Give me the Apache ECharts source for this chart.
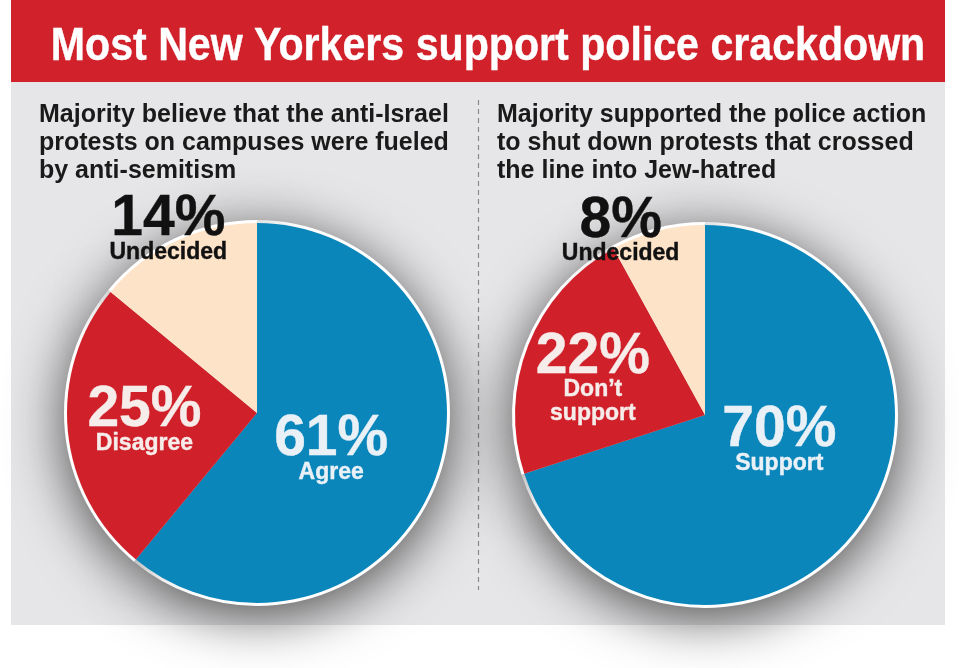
<!DOCTYPE html>
<html>
<head>
<meta charset="utf-8">
<script src="https://cdn.jsdelivr.net/npm/echarts@6/dist/echarts.min.js"></script>
<style>
html,body{margin:0;padding:0;background:#fff;}
#chart{width:959px;height:668px;}
</style>
</head>
<body>
<div id="chart"></div>
<script>
// ---- data ----
const TITLE = 'Most New Yorkers support police crackdown';
const LEFT_SUBTITLE = ['Majority believe that the anti-Israel', 'protests on campuses were fueled', 'by anti-semitism'];
const RIGHT_SUBTITLE = ['Majority supported the police action', 'to shut down protests that crossed', 'the line into Jew-hatred'];
const LEFT_CATS = ['Agree', 'Disagree', 'Undecided'];
const LEFT_VALUES = [61, 25, 14];
const RIGHT_CATS = ['Support', 'Don\u2019t support', 'Undecided'];
const RIGHT_VALUES = [70, 22, 8];

// ---- style / layout ----
const SLICE_COLORS = ['#0b86bb', '#d0212b', '#fde3c8'];
const LABEL_COLORS = ['#e9f1f7', '#f6ecea', '#111111'];
const FONT = '"Liberation Sans", Arial, sans-serif';
const R = 190;
const LEFT_CENTER = [257, 413];
const RIGHT_CENTER = [705, 415];
const LEFT_OFFSETS = [[-18, 5], [-15, 0], [-47, -93]];
const RIGHT_OFFSETS = [[-5, -30], [-21, 2], [-60, -87]];

function buildData(cats, vals) {
  return cats.map((c, i) => ({
    name: c,
    value: vals[i],
    itemStyle: { color: SLICE_COLORS[i] },
    label: { color: LABEL_COLORS[i], textBorderColor: LABEL_COLORS[i], textBorderWidth: 0.4 }
  }));
}

function labelFormatter(p) {
  const lines = p.name.split(' ').map(s => '{n|' + s + '}').join('\n');
  return '{p|' + p.value + '%}\n' + lines;
}

const rich = {
  p: { fontSize: 57, fontWeight: 'bold', fontFamily: FONT, lineHeight: 42 },
  n: { fontSize: 23, fontWeight: 'bold', fontFamily: FONT, lineHeight: 24 }
};

function shadowSeries(center, cats, vals) {
  return {
    type: 'pie',
    center: center,
    radius: R + 3,
    startAngle: 90,
    silent: true,
    z: 1,
    label: { show: false },
    labelLine: { show: false },
    itemStyle: {
      color: '#ffffff',
      shadowBlur: 55,
      shadowColor: 'rgba(0,0,0,0.68)',
      shadowOffsetY: 10
    },
    data: cats.map((c, i) => ({ name: c, value: vals[i] }))
  };
}

function mainSeries(center, cats, vals, offsets) {
  return {
    type: 'pie',
    center: center,
    radius: R,
    startAngle: 90,
    clockwise: true,
    silent: true,
    z: 3,
    label: {
      show: true,
      position: 'inside',
      formatter: labelFormatter,
      rich: rich,
      align: 'center'
    },
    labelLine: { show: false },
    labelLayout: function (p) {
      const o = offsets[p.dataIndex];
      return { dx: o[0], dy: o[1] };
    },
    data: buildData(cats, vals)
  };
}

const chart = echarts.init(document.getElementById('chart'), null, { renderer: 'canvas' });

const option = {
  backgroundColor: '#ffffff',
  animation: false,
  graphic: [
    { type: 'rect', z: -10, shape: { x: 11, y: 82, width: 934, height: 543 }, style: { fill: '#e6e6e8' } },
    { type: 'rect', z: -10, shape: { x: 11, y: 0, width: 934, height: 82 }, style: { fill: '#d1222b' } },
    { type: 'line', z: -5, shape: { x1: 478.5, y1: 100, x2: 478.5, y2: 590 }, style: { stroke: '#8a8a8a', lineWidth: 1.2, lineDash: [5, 4] } },
    {
      type: 'text', z: 10, x: 488, y: 47, scaleX: 0.875,
      style: { text: TITLE, fill: '#ffffff', stroke: '#ffffff', lineWidth: 0.4, font: 'bold 47px ' + FONT, align: 'center', verticalAlign: 'middle' }
    }
  ],
  title: [
    {
      text: LEFT_SUBTITLE.join('\n'),
      left: 34, top: 96,
      textStyle: { fontSize: 25, lineHeight: 28, fontWeight: 'bold', color: '#1a1a1a', fontFamily: FONT }
    },
    {
      text: RIGHT_SUBTITLE.join('\n'),
      left: 492, top: 96,
      textStyle: { fontSize: 25, lineHeight: 28, fontWeight: 'bold', color: '#1a1a1a', fontFamily: FONT }
    }
  ],
  series: [
    shadowSeries(LEFT_CENTER, LEFT_CATS, LEFT_VALUES),
    shadowSeries(RIGHT_CENTER, RIGHT_CATS, RIGHT_VALUES),
    mainSeries(LEFT_CENTER, LEFT_CATS, LEFT_VALUES, LEFT_OFFSETS),
    mainSeries(RIGHT_CENTER, RIGHT_CATS, RIGHT_VALUES, RIGHT_OFFSETS)
  ]
};

chart.setOption(option);
</script>
</body>
</html>
